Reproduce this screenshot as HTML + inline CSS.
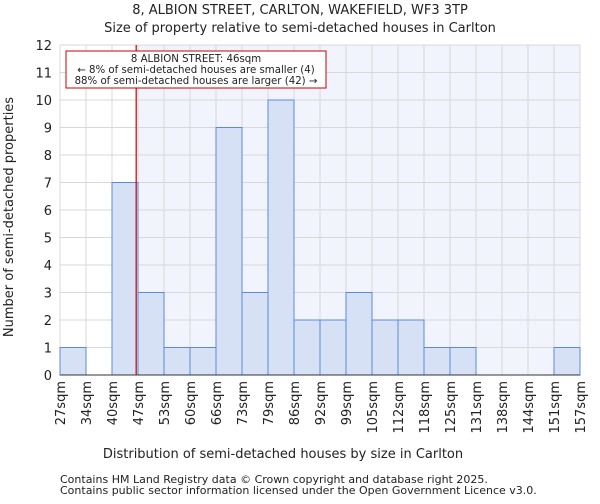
<!DOCTYPE html>
<html><head><meta charset="utf-8"><style>
body{margin:0;background:#fff;font-family:"DejaVu Sans","Liberation Sans",sans-serif;}
svg text{font-family:"DejaVu Sans","Liberation Sans",sans-serif;fill:#222;}
</style></head><body>
<svg id="c" width="600" height="500">
<text x="300" y="14" font-size="13" text-anchor="middle">8, ALBION STREET, CARLTON, WAKEFIELD, WF3 3TP</text>
<text x="300" y="32" font-size="13" text-anchor="middle">Size of property relative to semi-detached houses in Carlton</text>
<g id="plot"></g>
<text x="283" y="458" font-size="13" text-anchor="middle">Distribution of semi-detached houses by size in Carlton</text>
<text transform="translate(13,217) rotate(-90)" font-size="13" text-anchor="middle">Number of semi-detached properties</text>
<text x="60" y="483" font-size="11">Contains HM Land Registry data © Crown copyright and database right 2025.</text>
<text x="60" y="494" font-size="11">Contains public sector information licensed under the Open Government Licence v3.0.</text>
</svg>
<script>
const labels=["27sqm","34sqm","40sqm","47sqm","53sqm","60sqm","66sqm","73sqm","79sqm","86sqm","92sqm","99sqm","105sqm","112sqm","118sqm","125sqm","131sqm","138sqm","144sqm","151sqm","157sqm"];
const counts=[1,0,7,3,1,1,9,3,10,2,2,3,2,2,1,1,0,0,0,1];
const yTicks=[0,1,2,3,4,5,6,7,8,9,10,11,12];
const markerBin=2.93;
const NS="http://www.w3.org/2000/svg";
const g=document.getElementById('plot');
const L=60,R=580,T=45,B=375,yMax=12;
const bw=(R-L)/counts.length;
const xs=i=>L+i*bw;
const ys=v=>B-v*(B-T)/yMax;
function mk(t,a,p){const e=document.createElementNS(NS,t);for(const k in a)e.setAttribute(k,a[k]);(p||g).appendChild(e);return e;}
const mx=xs(markerBin);
let e=mk('rect',{x:mx,y:T,width:R-mx,height:B-T,fill:'#f1f4fc'});


for(let i=0;i<=counts.length;i++){e=mk('line',{x1:xs(i),x2:xs(i),y1:T,y2:B,stroke:'#d8d8d8'});

}
yTicks.forEach(v=>{e=mk('line',{x1:L,x2:R,y1:ys(v),y2:ys(v),stroke:'#d8d8d8'});


const t=mk('text',{x:L-8,y:ys(v)+5,'font-size':13,'text-anchor':'end'});t.textContent=v;

});
counts.forEach((c,i)=>{if(c>0){e=mk('rect',{x:xs(i),y:ys(c),width:bw,height:ys(0)-ys(c),fill:'#d6e1f5',stroke:'#5b8bd6','stroke-width':1});

}});
labels.forEach((l,i)=>{const x=xs(i),y=B+6;const t=mk('text',{transform:`translate(${x+5},${y}) rotate(-90)`,'font-size':13,'text-anchor':'end'});t.textContent=l;

});
e=mk('line',{x1:L,x2:R,y1:B,y2:B,stroke:'#333'});


e=mk('line',{x1:mx,x2:mx,y1:T,y2:B,stroke:'#cc0000','stroke-width':1.2});


e=mk('rect',{x:66,y:51,width:260,height:37,fill:'#fff',stroke:'#cc0000'});


[["8 ALBION STREET: 46sqm",62],["← 8% of semi-detached houses are smaller (4)",73],["88% of semi-detached houses are larger (42) →",84]].forEach(([s,y])=>{const t=mk('text',{x:196,y:y,'font-size':10.2,'text-anchor':'middle'});t.textContent=s;

});
</script>
</body></html>
